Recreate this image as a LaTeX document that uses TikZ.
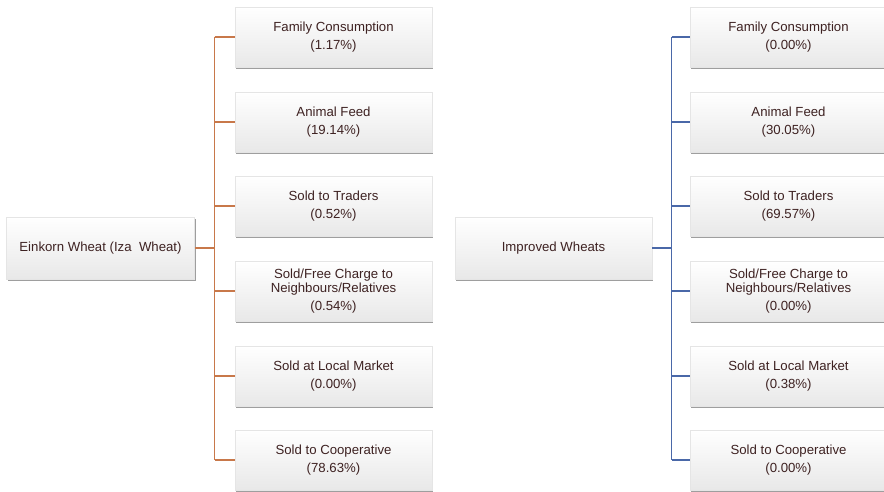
\documentclass[tikz,border=0pt]{standalone}
\usepackage{fontspec}
\setmainfont{Liberation Sans}
\usepackage{xcolor}
\usetikzlibrary{shadows}

\definecolor{txtbrown}{HTML}{3E2222}
\definecolor{einkornline}{HTML}{C8784A}
\definecolor{improvedline}{HTML}{4A68A8}

\tikzset{
  usebox/.style={draw=gray!20, line width=0.4pt, top color=white, bottom color=gray!18,
    minimum width=197pt, minimum height=60pt, align=center, inner sep=2pt,
    text=txtbrown, font=\fontsize{13.2}{17.5}\selectfont,
    drop shadow={shadow xshift=1pt, shadow yshift=-2pt, fill=gray!85, opacity=0.9}},
  rootbox/.style={usebox, minimum height=62pt},
  einkorn/.style={einkornline, line width=1.2pt},
  improved/.style={improvedline, line width=1.2pt}
}

\begin{document}
\begin{tikzpicture}[x=1pt,y=-1pt]
\useasboundingbox (0,0) rectangle (884,492);

% Einkorn side
\node[rootbox, minimum width=188pt] (eroot) at (100.5,248) {Einkorn Wheat (Iza\ \ Wheat)};
\node[usebox] (efam) at (333.5,37) {Family Consumption\\(1.17\%)};
\node[usebox] (efeed) at (333.5,122) {Animal Feed\\(19.14\%)};
\node[usebox] (etrad) at (333.5,206) {Sold to Traders\\(0.52\%)};
\node[usebox] (eneigh) at (333.5,291) {Sold/Free Charge to\\[-3.5pt]Neighbours/Relatives\\(0.54\%)};
\node[usebox] (emark) at (333.5,376) {Sold at Local Market\\(0.00\%)};
\node[usebox] (ecoop) at (333.5,460) {Sold to Cooperative\\(78.63\%)};

\coordinate (ebus) at (214.5,248);
\draw[einkorn] (eroot.east) -- (ebus);
\draw[einkorn] (ebus |- efam.west) -- (ebus |- ecoop.west);
\draw[einkorn] (ebus |- efam.west) -- (efam.west);
\draw[einkorn] (ebus |- efeed.west) -- (efeed.west);
\draw[einkorn] (ebus |- etrad.west) -- (etrad.west);
\draw[einkorn] (ebus |- eneigh.west) -- (eneigh.west);
\draw[einkorn] (ebus |- emark.west) -- (emark.west);
\draw[einkorn] (ebus |- ecoop.west) -- (ecoop.west);

% Improved side
\node[rootbox] (iroot) at (553.5,248) {Improved Wheats};
\node[usebox] (ifam) at (788.5,37) {Family Consumption\\(0.00\%)};
\node[usebox] (ifeed) at (788.5,122) {Animal Feed\\(30.05\%)};
\node[usebox] (itrad) at (788.5,206) {Sold to Traders\\(69.57\%)};
\node[usebox] (ineigh) at (788.5,291) {Sold/Free Charge to\\[-3.5pt]Neighbours/Relatives\\(0.00\%)};
\node[usebox] (imark) at (788.5,376) {Sold at Local Market\\(0.38\%)};
\node[usebox] (icoop) at (788.5,460) {Sold to Cooperative\\(0.00\%)};

\coordinate (ibus) at (671.5,248);
\draw[improved] (iroot.east) -- (ibus);
\draw[improved] (ibus |- ifam.west) -- (ibus |- icoop.west);
\draw[improved] (ibus |- ifam.west) -- (ifam.west);
\draw[improved] (ibus |- ifeed.west) -- (ifeed.west);
\draw[improved] (ibus |- itrad.west) -- (itrad.west);
\draw[improved] (ibus |- ineigh.west) -- (ineigh.west);
\draw[improved] (ibus |- imark.west) -- (imark.west);
\draw[improved] (ibus |- icoop.west) -- (icoop.west);
\end{tikzpicture}
\end{document}
